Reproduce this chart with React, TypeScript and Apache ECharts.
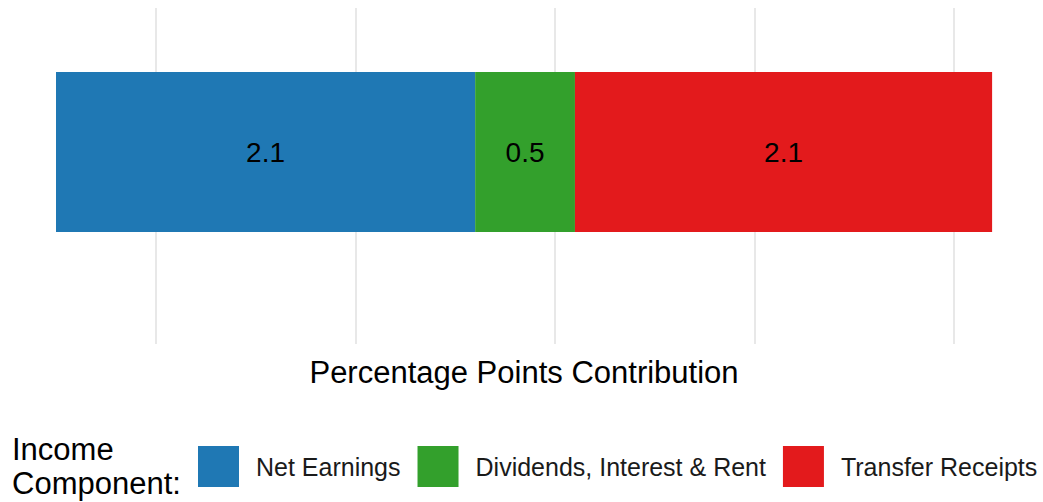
import React, { useEffect, useRef } from "react";
import * as echarts from "echarts";

const categories = ["Contribution"];
const seriesNames = ["Net Earnings", "Dividends, Interest & Rent", "Transfer Receipts"];
const seriesValues = [2.1, 0.5, 2.09];
const seriesColors = ["#1f78b4", "#33a02c", "#e31a1c"];
const gridBreaks = [0.5, 1.5, 2.5, 3.5, 4.5];
const axisTitle = "Percentage Points Contribution";
const legendTitle = "Income\nComponent:";

const FONT = "'Liberation Sans', Arial, sans-serif";

export default function App() {
  const ref = useRef<HTMLDivElement>(null);
  useEffect(() => {
    if (!ref.current) return;
    const chart = echarts.init(ref.current, null, { renderer: "svg" });
    const xMin = -0.2806;
    const xMax = 4.945;
    const hiddenAxis = {
      axisLine: { show: false },
      axisTick: { show: false },
      axisLabel: { show: false },
      splitLine: { show: false },
    };
    const option: any = {
      animation: false,
      backgroundColor: "#ffffff",
      textStyle: { fontFamily: FONT },
      grid: [
        { left: 0, right: 0, top: 8, height: 336, containLabel: false },
        { left: 0, right: 0, top: 72, height: 160, containLabel: false },
      ],
      xAxis: [
        { gridIndex: 0, type: "value", min: xMin, max: xMax, ...hiddenAxis },
        { gridIndex: 1, type: "value", min: xMin, max: xMax, ...hiddenAxis },
      ],
      yAxis: [
        { gridIndex: 0, type: "category", data: categories, ...hiddenAxis },
        { gridIndex: 1, type: "category", data: categories, ...hiddenAxis },
      ],
      legend: {
        left: 198,
        top: 446,
        padding: 0,
        itemWidth: 41,
        itemHeight: 41,
        itemGap: 17,
        icon: "rect",
        data: seriesNames,
        textStyle: {
          fontFamily: FONT,
          fontSize: 25,
          color: "#1a1a1a",
          padding: [0, 0, 0, 12],
        },
      },
      graphic: [
        {
          type: "text",
          left: 12,
          top: 432,
          style: {
            text: legendTitle,
            font: `31px ${FONT}`,
            fill: "#000000",
            lineHeight: 34,
          },
        },
        {
          type: "text",
          x: 524,
          y: 372,
          style: {
            text: axisTitle,
            font: `31px ${FONT}`,
            fill: "#000000",
            align: "center",
            verticalAlign: "middle",
          },
        },
      ],
      series: [
        {
          name: "gridlines",
          type: "scatter",
          xAxisIndex: 0,
          yAxisIndex: 0,
          symbolSize: 0,
          data: [],
          silent: true,
          z: 0,
          markLine: {
            silent: true,
            z: 0,
            zlevel: 0,
            symbol: ["none", "none"],
            label: { show: false },
            lineStyle: { color: "#e3e3e3", width: 1.6, type: "solid" },
            emphasis: { disabled: true },
            data: gridBreaks.map((v) => ({ xAxis: v })),
          },
        },
        ...seriesNames.map((name, i) => ({
          name,
          type: "bar",
          stack: "total",
          xAxisIndex: 1,
          yAxisIndex: 1,
          barWidth: "100%",
          z: 5,
          data: [seriesValues[i]],
          itemStyle: { color: seriesColors[i] },
          label: {
            show: true,
            position: "inside",
            formatter: (p: any) => Number(p.value).toFixed(1),
            fontFamily: FONT,
            fontSize: 28,
            color: "#000000",
          },
          emphasis: { disabled: true },
        })),
      ],
    };
    chart.setOption(option);
    return () => chart.dispose();
  }, []);
  return (
    <div
      ref={ref}
      style={{ position: "fixed", left: 0, top: 0, width: 1043, height: 502 }}
    />
  );
}
